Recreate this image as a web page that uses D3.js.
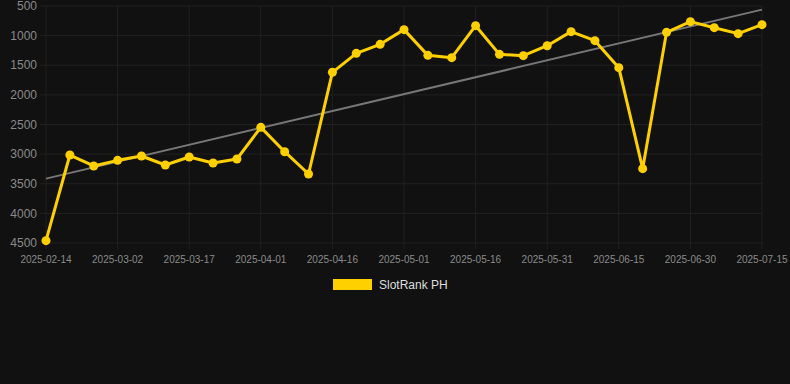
<!DOCTYPE html>
<html><head><meta charset="utf-8">
<script src="https://cdn.jsdelivr.net/npm/d3@7"></script>
<style>html,body{margin:0;padding:0;background:#111111;}svg{display:block;}</style>
</head><body>
<script>
const dates = ["2025-02-14","2025-02-19","2025-02-24","2025-03-02","2025-03-07","2025-03-12","2025-03-17","2025-03-22","2025-03-27","2025-04-01","2025-04-06","2025-04-11","2025-04-16","2025-04-21","2025-04-26","2025-05-01","2025-05-06","2025-05-11","2025-05-16","2025-05-21","2025-05-26","2025-05-31","2025-06-05","2025-06-10","2025-06-15","2025-06-20","2025-06-25","2025-06-30","2025-07-05","2025-07-10","2025-07-15"];
const ranks = [4460,3015,3200,3105,3032,3184,3049,3150,3082,2548,2959,3335,1619,1299,1147,899,1333,1372,832,1316,1338,1170,933,1085,1541,3245,945,764,866,967,815];
const yTicks = [500,1000,1500,2000,2500,3000,3500,4000,4500];
const seriesName = "SlotRank PH";

const W = 790, H = 384;
const svg = d3.select("body").append("svg").attr("width", W).attr("height", H);
const x = d3.scalePoint().domain(dates).range([46, 762]);
const y = d3.scaleLinear().domain([500, 4500]).range([6, 243]);

// grid
svg.append("g").selectAll("line").data(yTicks).join("line")
  .attr("x1", 40).attr("x2", 762).attr("y1", d => y(d)).attr("y2", d => y(d))
  .attr("stroke", "#212121").attr("stroke-width", 1);
const labelDates = dates.filter((d, i) => i % 3 === 0);
svg.append("g").selectAll("line").data(labelDates).join("line")
  .attr("x1", d => x(d)).attr("x2", d => x(d)).attr("y1", 6).attr("y2", 249)
  .attr("stroke", "#212121").attr("stroke-width", 1);

// y labels
svg.append("g").selectAll("text").data(yTicks).join("text")
  .attr("x", 37).attr("y", d => y(d)).attr("dy", "0.35em").attr("text-anchor", "end")
  .attr("fill", "#8a8a8a").style("font", "12px Arial, 'Liberation Sans', sans-serif").text(d => d);
// x labels
svg.append("g").selectAll("text").data(labelDates).join("text")
  .attr("x", d => x(d)).attr("y", 259).attr("dy", "0.35em").attr("text-anchor", "middle")
  .attr("fill", "#8a8a8a").style("font", "10px Arial, 'Liberation Sans', sans-serif").text(d => d);

// trend (linear regression)
const n = ranks.length;
const idx = d3.range(n);
const mx = d3.mean(idx), my = d3.mean(ranks);
const slope = d3.sum(idx, i => (i - mx) * (ranks[i] - my)) / d3.sum(idx, i => (i - mx) ** 2);
const icpt = my - slope * mx;
svg.append("line")
  .attr("x1", x(dates[0])).attr("y1", y(icpt))
  .attr("x2", x(dates[n - 1])).attr("y2", y(icpt + slope * (n - 1)))
  .attr("stroke", "#777777").attr("stroke-width", 2);

// series
const line = d3.line().x((d, i) => x(dates[i])).y(d => y(d));
svg.append("path").datum(ranks).attr("d", line).attr("fill", "none")
  .attr("stroke", "#FFD000").attr("stroke-width", 3).attr("stroke-linejoin", "round");
svg.append("g").selectAll("circle").data(ranks).join("circle")
  .attr("cx", (d, i) => x(dates[i])).attr("cy", d => y(d)).attr("r", 4.5)
  .attr("fill", "#FFD000");

// legend
svg.append("rect").attr("x", 333).attr("y", 279).attr("width", 39).attr("height", 11)
  .attr("fill", "#FFD000");
svg.append("text").attr("x", 379).attr("y", 285).attr("dy", "0.35em")
  .attr("fill", "#dddddd").style("font", "12px Arial, 'Liberation Sans', sans-serif").text(seriesName);
</script>
</body></html>
